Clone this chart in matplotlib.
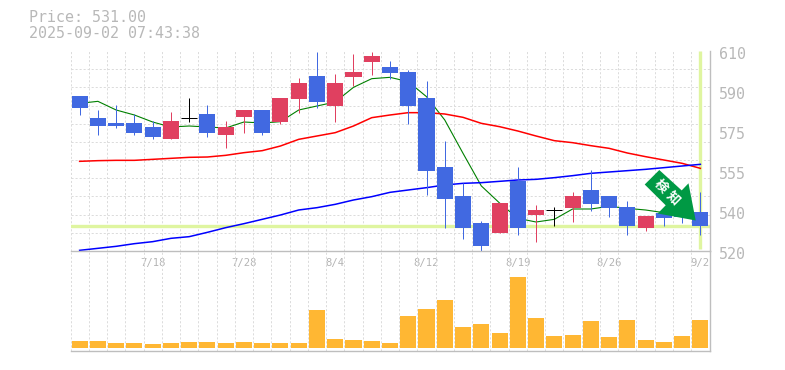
import matplotlib
matplotlib.use('Agg')
import matplotlib.pyplot as plt
from matplotlib.patches import Polygon
from matplotlib.transforms import Affine2D, ScaledTranslation
import numpy as np

W, H = 785, 370

# ohlc, one per session
opens = [589.75, 579.85, 577.6, 577.6, 575.8, 570.4, 579.85, 581.65, 572.2, 580.3, 583.45, 578.05,
         588.4, 598.75, 585.25, 598.3, 605.05, 602.8, 600.55, 588.85, 557.8, 544.75, 532.6, 528.1,
         551.5, 536.2, 538.45, 539.35, 547.45, 544.75, 539.8, 530.35, 537.0, 537.5, 537.55]
highs = [589.75, 583.45, 585.7, 581.65, 578.5, 582.55, 588.85, 585.7, 578.5, 583.45, 583.45, 588.85,
         597.85, 609.55, 599.65, 608.65, 609.55, 605.5, 601.45, 596.5, 569.5, 550.6, 533.5, 541.6,
         557.8, 540.7, 539.8, 546.55, 556.45, 544.75, 542.5, 535.75, 537.0, 537.5, 546.55]
lows = [581.2, 572.2, 575.35, 572.2, 570.4, 570.4, 578.05, 571.3, 566.35, 573.1, 572.2, 577.15,
        582.1, 584.35, 578.05, 594.25, 599.2, 597.4, 577.15, 545.2, 530.35, 525.4, 520.0, 528.1,
        527.2, 524.05, 531.25, 533.05, 538.0, 535.3, 527.2, 529.0, 531.25, 532.45, 527.2]
closes = [584.35, 576.25, 576.25, 573.1, 571.3, 578.5, 579.85, 573.1, 575.8, 583.45, 573.1, 588.85,
          595.6, 587.05, 595.6, 600.55, 607.75, 600.1, 585.25, 556.0, 543.4, 530.35, 522.25, 541.6,
          530.35, 538.45, 538.45, 544.75, 541.15, 539.35, 531.25, 535.75, 534.85, 535.5, 531.25]

ma_short = [586.45, 587.35, 583.45, 581.2, 578.05, 575.8, 576.25, 575.8, 575.35, 578.05, 577.6, 578.2,
            583.45, 585.25, 587.05, 593.65, 597.55, 598.15, 596.2, 589.45, 578.95, 563.95, 549.3, 541.6,
            534.7, 533.05, 534.25, 538.9, 538.9, 540.1, 539.2, 538.45, 537.25, 536.0, 535.0]
ma_mid = [560.35, 560.65, 560.8, 560.8, 561.25, 561.7, 562.15, 562.3, 563.05, 564.25, 565.15, 567.25,
          570.25, 571.75, 573.25, 576.25, 580.0, 581.2, 582.25, 582.25, 581.65, 580.15, 577.45, 575.95,
          574.0, 571.75, 569.65, 568.75, 567.4, 566.2, 564.1, 562.45, 560.95, 559.45, 557.2]
ma_long = [520.3, 521.2, 522.1, 523.3, 524.2, 525.7, 526.45, 528.4, 530.5, 532.3, 534.25, 536.2,
           538.45, 539.5, 541.0, 542.95, 544.45, 546.4, 547.45, 548.5, 549.7, 550.45, 550.75, 551.35,
           551.95, 552.25, 553.0, 553.9, 554.95, 555.55, 556.15, 556.75, 557.5, 558.25, 559.0]

volumes = [7, 7, 5, 5, 4, 5, 6, 6, 5, 6, 5, 5, 5, 38, 9, 8, 7, 5,
           32, 39, 48, 21, 24, 15, 71, 30, 12, 13, 27, 11, 28, 8, 6, 12, 28]

date_pos = [4, 9, 14, 19, 24, 29, 34]
date_labels = ['7/18', '7/28', '8/4', '8/12', '8/19', '8/26', '9/2']
price_pos = [610, 592, 574, 556, 538, 520]
price_labels = ['610', '590', '575', '555', '540', '520']
last_price = 531.0
title_lines = ['Price: 531.00', '2025-09-02 07:43:38']
arrow_text = '検知'

BLUE = '#4169e1'
RED = '#e04060'
ORANGE = '#ffb733'
HILITE = '#dff5a0'
GRID = '#dcdcdc'
FRAME = '#bebebe'
TEXT = '#b8b8b8'
ARROW = '#009944'

plt.rcParams['font.family'] = ['DejaVu Sans Mono', 'Noto Sans CJK JP']
plt.rcParams['lines.scale_dashes'] = False

fig = plt.figure(figsize=(W / 100, H / 100), dpi=100)


def px_axes(x0, y0, x1, y1):
    a = fig.add_axes([x0 / W, 1 - y1 / H, (x1 - x0) / W, (y1 - y0) / H])
    a.patch.set_visible(False)
    return a


ax = px_axes(70.5, 51, 709.5, 251)
vax = px_axes(70.5, 250.5, 709.5, 350.5)

n = len(closes)
idx = np.arange(n)
grid_style = dict(color=GRID, lw=0.72, ls=(0, (1.5, 1.4)))

for a in (ax, vax):
    a.set_xlim(-0.5, n - 0.5)
    a.set_axisbelow(True)
    a.set_xticks(np.arange(n + 1) - 0.5, minor=True)
    a.grid(True, which='minor', axis='x', **grid_style)
    a.tick_params(which='both', length=0)
    for s in a.spines.values():
        s.set_visible(False)

for s in ('top', 'right', 'bottom'):
    vax.spines[s].set_visible(True)
    vax.spines[s].set_color(FRAME)
    vax.spines[s].set_linewidth(1.0)
ax.spines['right'].set_visible(True)
ax.spines['right'].set_color(FRAME)
ax.spines['right'].set_linewidth(1.0)

ax.set_ylim(520, 610)
ax.set_yticks(np.linspace(520, 610, 12), minor=True)
ax.grid(True, which='minor', axis='y', **grid_style)
ax.yaxis.tick_right()
ax.set_yticks(price_pos)
ax.set_yticklabels(price_labels, fontsize=10.8, color=TEXT)
ax.tick_params(axis='y', which='major', pad=7)
nudge = ScaledTranslation(0, -2 / 100, fig.dpi_scale_trans)
for t in ax.get_yticklabels():
    t.set_transform(t.get_transform() + nudge)
ax.set_xticks(date_pos)
ax.set_xticklabels(date_labels, fontsize=7.6, color='#b4b4b4')
ax.tick_params(axis='x', which='major', pad=5)

for axis in (ax.xaxis, ax.yaxis, vax.xaxis):
    for tk in axis.get_minor_ticks():
        tk.gridline.set_clip_on(False)

# highlight of the last price and last session
ax.axhline(last_price + 0.3, color=HILITE, lw=2.4, zorder=1)
ax.vlines(n - 1, 521, 610, color=HILITE, lw=2.4, zorder=1)

ax.plot(idx, ma_short, color='#008000', lw=0.8, zorder=2)
ax.plot(idx, ma_mid, color='#ff0000', lw=1.1, zorder=2)
ax.plot(idx, ma_long, color='#0000ff', lw=1.1, zorder=2)

for i in idx:
    o, h, l, c = opens[i], highs[i], lows[i], closes[i]
    col = 'black' if o == c else (BLUE if c < o else RED)
    ax.vlines(i, l, h, color=col, lw=0.72, zorder=3)
    if o == c:
        ax.hlines(o, i - 0.44, i + 0.44, color=col, lw=0.72, zorder=3)
    else:
        ax.bar(i, abs(o - c), bottom=min(o, c), width=0.88, color=col, zorder=3, linewidth=0)

vax.set_ylim(-2.5, 97.5)
vax.set_yticks([])
vax.set_xticks([])
vax.bar(idx, volumes, width=0.88, color=ORANGE, linewidth=0, zorder=3)

# signal arrow, placed in pixels of the figure
to_px = Affine2D().scale(1, -1).translate(0, H)
arrow_pts = [(659.3, 170), (644.7, 184.5), (665.7, 205.3), (657.7, 213.5),
             (695.7, 220.5), (688.5, 183.3), (681.7, 190.4)]
fig.add_artist(Polygon(arrow_pts, closed=True, facecolor=ARROW, edgecolor='none',
                       transform=to_px, zorder=5))
for ch, (px, py) in zip(arrow_text, [(661, 185.7), (673.3, 197.7)]):
    fig.text(px / W, 1 - py / H, ch, color='white', fontsize=9.5, fontweight='bold',
             rotation=-45, rotation_mode='anchor', ha='center', va='center',
             family=['Noto Sans CJK JP', 'DejaVu Sans'], zorder=6)

fig.text(29 / W, 1 - 18 / H, title_lines[0], color=TEXT, fontsize=10.8, va='center', ha='left')
fig.text(29 / W, 1 - 33 / H, title_lines[1], color=TEXT, fontsize=10.8, va='center', ha='left')

fig.savefig('out.png', dpi=100)
